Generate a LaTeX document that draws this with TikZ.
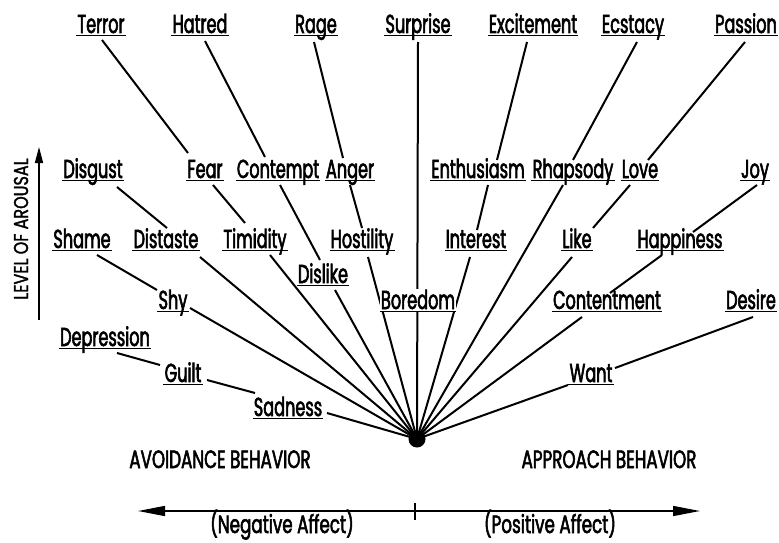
\documentclass[tikz,border=0pt]{standalone}
\usepackage{fontspec}
\setmainfont{Poppins}[FakeStretch=0.62, FakeBold=2.2]
\newfontfamily\capsfont{Poppins}[FakeStretch=0.67, FakeBold=2.2]
\newfontfamily\axisfont{Poppins}[FakeStretch=0.8, FakeBold=1.6]
\usetikzlibrary{arrows.meta}
\pgfdeclarelayer{back}
\pgfsetlayers{back,main}
\begin{document}
\begin{tikzpicture}[x=1pt,y=-1pt,
  emo/.style={anchor=base, font=\fontsize{26}{26}\selectfont,
    inner xsep=1pt, inner ysep=2.5pt, text height=18pt, text depth=0pt,
    append after command={(\tikzlastnode.south west) edge[line width=1.5pt] (\tikzlastnode.south east)}},
  caps/.style={anchor=base, font=\capsfont\fontsize{25}{25}\selectfont, inner sep=0pt},
  link/.style={line width=2pt},
  axis/.style={line width=1.5pt},
]
\useasboundingbox (0,0) rectangle (779,543);

% top row: high arousal
\node[emo] (Terror)     at (101,33) {Terror};
\node[emo] (Hatred)     at (200,33) {Hatred};
\node[emo] (Rage)       at (316,33) {Rage};
\node[emo] (Surprise)   at (418,33) {Surprise};
\node[emo] (Excitement) at (533,33) {Excitement};
\node[emo] (Ecstacy)    at (633,33) {Ecstacy};
\node[emo] (Passion)    at (746,33) {Passion};

% second row
\node[emo] (Disgust)    at (93,178)  {Disgust};
\node[emo] (Fear)       at (205,178) {Fear};
\node[emo] (Contempt)   at (278,178) {Contempt};
\node[emo] (Anger)      at (350,178) {Anger};
\node[emo] (Enthusiasm) at (478,178) {Enthusiasm};
\node[emo] (Rhapsody)   at (573,178) {Rhapsody};
\node[emo] (Love)       at (640,178) {Love};
\node[emo] (Joy)        at (755,178) {Joy};

% third row
\node[emo] (Shame)      at (82,248)  {Shame};
\node[emo] (Distaste)   at (166,248) {Distaste};
\node[emo] (Timidity)   at (255,248) {Timidity};
\node[emo] (Hostility)  at (362,248) {Hostility};
\node[emo] (Interest)   at (476,248) {Interest};
\node[emo] (Like)       at (577,248) {Like};
\node[emo] (Happiness)  at (680,248) {Happiness};

% lower rows
\node[emo] (Dislike)     at (323,283) {Dislike};
\node[emo] (Shy)         at (173,309) {Shy};
\node[emo, fill=white] (Boredom) at (418,309) {Boredom};
\node[emo] (Contentment) at (607,309) {Contentment};
\node[emo] (Desire)      at (751,309) {Desire};
\node[emo] (Depression)  at (105,346) {Depression};
\node[emo] (Guilt)       at (183,382) {Guilt};
\node[emo] (Want)        at (591,382) {Want};
\node[emo] (Sadness)     at (288,416) {Sadness};

% common point of all lines
\coordinate (hub) at (417,439);

\begin{pgfonlayer}{back}
% links between labels
\draw[link] ([shift={(1,7)}]Terror.base)      -- ([shift={(-17,-25)}]Fear.base);
\draw[link] ([shift={(5,8)}]Hatred.base)      -- ([shift={(-13,-21)}]Contempt.base);
\draw[link] ([shift={(-2,9)}]Rage.base)       -- ([shift={(-7,-20)}]Anger.base);
\draw[link] ([shift={(-6,9)}]Excitement.base) -- ([shift={(19,-18)}]Enthusiasm.base);
\draw[link] ([shift={(4,9)}]Ecstacy.base)     -- ([shift={(0,-18)}]Rhapsody.base);
\draw[link] ([shift={(-1,9)}]Passion.base)    -- ([shift={(8,-18)}]Love.base);
\draw[link] ([shift={(24,9)}]Disgust.base)    -- ([shift={(1,-20)}]Distaste.base);
\draw[link] ([shift={(8,7)}]Fear.base)        -- ([shift={(-10,-25)}]Timidity.base);
\draw[link] ([shift={(2,7)}]Contempt.base)    -- ([shift={(-3,-23)}]Dislike.base);
\draw[link] ([shift={(0,7)}]Anger.base)       -- ([shift={(0,-20)}]Hostility.base);
\draw[link] ([shift={(10,7)}]Enthusiasm.base) -- ([shift={(1,-18)}]Interest.base);
\draw[link] ([shift={(-10,7)}]Love.base)      -- ([shift={(16,-20)}]Like.base);
\draw[link] ([shift={(2,7)}]Joy.base)         -- ([shift={(13,-16)}]Happiness.base);
\draw[link] ([shift={(15,7)}]Shame.base)      -- ([shift={(-16,-19)}]Shy.base);
\draw[link] ([shift={(-18,7)}]Happiness.base) -- ([shift={(3,-16)}]Contentment.base);
\draw[link] ([shift={(2,8)}]Desire.base)      -- ([shift={(24,-14)}]Want.base);
\draw[link] ([shift={(12,7)}]Depression.base) -- ([shift={(-23,-17)}]Guilt.base);
\draw[link] ([shift={(24,-2)}]Guilt.base)     -- ([shift={(-33,-23)}]Sadness.base);
% links into the common point
\draw[link] ([shift={(0,9)}]Surprise.base)    -- (hub);
\draw[link] ([shift={(-10,7)}]Rhapsody.base)  -- (hub);
\draw[link] ([shift={(-6,9)}]Interest.base)   -- (hub);
\draw[link] ([shift={(-5,9)}]Like.base)       -- (hub);
\draw[link] ([shift={(-25,8)}]Contentment.base) -- (hub);
\draw[link] ([shift={(-23,3)}]Want.base)      -- (hub);
\draw[link] ([shift={(39,-3)}]Sadness.base)   -- (hub);
\draw[link] ([shift={(17,-1)}]Shy.base)       -- (hub);
\draw[link] ([shift={(34,9)}]Distaste.base)   -- (hub);
\draw[link] ([shift={(15,7)}]Timidity.base)   -- (hub);
\draw[link] ([shift={(12,7)}]Dislike.base)    -- (hub);
\draw[link] ([shift={(6,9)}]Hostility.base)   -- (hub);
\end{pgfonlayer}

\fill (hub) circle (8.5);

% arousal axis
\coordinate (arBot) at (39,320);
\coordinate (arTop) at (39,147);
\draw[axis, -{Triangle[length=16pt,width=8pt]}] (arBot) -- (arTop);
\node[caps, rotate=90, font=\axisfont\fontsize{20}{20}\selectfont] (arousal) at (28,229) {LEVEL OF AROUSAL};

% behaviour labels and affect axis
\node[caps] (avoid)    at (220,468) {AVOIDANCE BEHAVIOR};
\node[caps] (approach) at (609,468) {APPROACH BEHAVIOR};
\coordinate (mid)    at (415,511);
\coordinate (negEnd) at (138,511);
\coordinate (posEnd) at (700,511);
\coordinate (tickTop) at (415,503);
\coordinate (tickBot) at (415,520);
\draw[axis, -{Triangle[length=27pt,width=10pt]}] (mid) -- (negEnd);
\draw[axis, -{Triangle[length=27pt,width=10pt]}] (mid) -- (posEnd);
\draw[axis] (tickTop) -- (tickBot);
\node[caps] (neg) at (282,533) {(Negative Affect)};
\node[caps] (pos) at (550,533) {(Positive Affect)};
\end{tikzpicture}
\end{document}
